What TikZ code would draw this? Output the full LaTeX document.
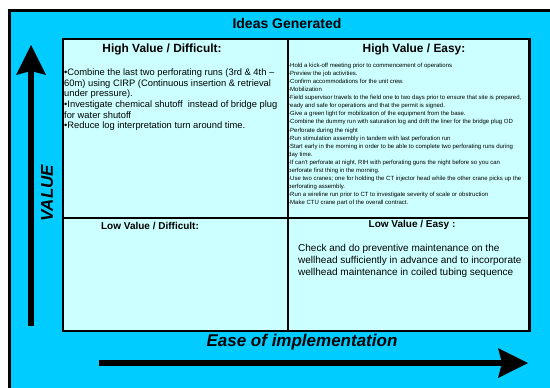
\documentclass[tikz,border=0pt]{standalone}
\usepackage{fontspec}
\setmainfont{Liberation Sans}
\usetikzlibrary{arrows.meta,positioning}

\definecolor{skyblue}{RGB}{0,204,255}
\definecolor{palecyan}{RGB}{204,255,255}

\tikzset{
  cell/.style={draw, line width=1.5pt, fill=palecyan, anchor=north west, inner sep=0pt},
  heading/.style={font=\bfseries\fontsize{11.9}{14}\selectfont, anchor=base},
  smallheading/.style={font=\bfseries\fontsize{10}{12}\selectfont, anchor=base},
  ideas/.style={align=left, anchor=north west, inner sep=0pt},
  axislabel/.style={font=\bfseries\itshape\fontsize{17}{20}\selectfont},
  axisarrow/.style={line width=6pt, -{Stealth[length=30pt,width=30pt,inset=4pt,line width=0pt]}}
}

\begin{document}
\begin{tikzpicture}[x=1pt,y=-1pt]
		\useasboundingbox (0,0) rectangle (550,388);
		\clip (0,0) rectangle (550,388);
		% draw the frame
		\draw [line width=3pt, fill=skyblue] (9,10.5) rectangle (570,400);
		\node [font=\bfseries\fontsize{14}{16}\selectfont, anchor=base] (ideas) at (287,28.3) {Ideas Generated};
		
		% draw the quadrants
		\node [cell, minimum width=225pt, minimum height=179pt] (hd) at (62,38) {};
		\node [cell, minimum width=241pt, minimum height=179pt] (he) at (287,38) {};
		\node [cell, minimum width=225pt, minimum height=113pt] (ld) at (62,217) {};
		\node [cell, minimum width=241pt, minimum height=113pt] (le) at (287,217) {};
		\draw [line width=2.5pt] (he.north east) -- (le.south east);
		
		\node [heading] (hdtitle) at (162,52.3) {High Value / Difficult:};
		\node [heading] (hetitle) at (414,52.3) {High Value / Easy:};
		\node [smallheading] (ldtitle) at (150,229.6) {Low Value / Difficult:};
		\node [smallheading] (letitle) at (412,227.6) {Low Value / Easy :};
		
		\node [ideas, font=\fontsize{9.35}{10.7}\selectfont] (hdtext) at (64,68.5) {%
			•Combine the last two perforating runs (3rd \& 4th –\\
			60m) using CIRP (Continuous insertion \& retrieval\\
			under pressure).\\
			•Investigate chemical shutoff\ \ instead of bridge plug\\
			for water shutoff\\
			•Reduce log interpretation turn around time.};
		\node [ideas, font=\fontsize{6}{8.1}\selectfont] (hetext) at (288,62.7) {%
			-Hold a kick-off meeting prior to commencement of operations\\
			-Preview the job activities.\\
			-Confirm accommodations for the unit crew.\\
			-Mobilization\\
			-Field supervisor travels to the field one to two days prior to ensure that site is prepared,\\
			ready and safe for operations and that the permit is signed.\\
			-Give a green light for mobilization of the equipment from the base.\\
			-Combine the dummy run with saturation log and drift the liner for the bridge plug OD\\
			-Perforate during the night\\
			-Run stimulation assembly in tandem with last perforation run\\
			-Start early in the morning in order to be able to complete two perforating runs during\\
			day time.\\
			-If can't perforate at night, RIH with perforating guns the night before so you can\\
			perforate first thing in the morning.\\
			-Use two cranes; one for holding the CT injector head while the other crane picks up the\\
			perforating assembly.\\
			-Run a wireline run prior to CT to investigate severity of scale or obstruction\\
			-Make CTU crane part of the overall contract.};
		\node [ideas, font=\fontsize{10}{12}\selectfont] (letext) at (298,244.2) {%
			Check and do preventive maintenance on the\\
			wellhead sufficiently in advance and to incorporate\\
			wellhead maintenance in coiled tubing sequence};
		
		% draw the axis
		\coordinate (vbase) at (31,326);
		\coordinate (vtip) at (31,45);
		\coordinate (ebase) at (99,363);
		\coordinate (etip) at (528,363);
		\draw [axisarrow] (vbase) -- (vtip);
		\draw [axisarrow] (ebase) -- (etip);
		\node [axislabel, rotate=90] (value) at (47,193) {VALUE};
		\node [axislabel] (ease) at (302,342) {Ease of implementation};
	\end{tikzpicture}
\end{document}
